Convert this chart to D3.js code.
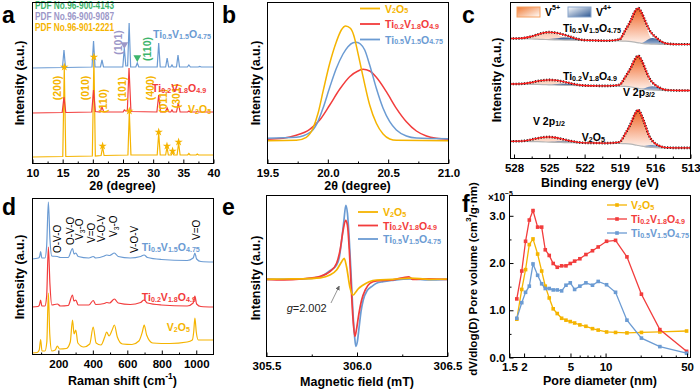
<!DOCTYPE html>
<html><head><meta charset="utf-8">
<script src="https://cdn.jsdelivr.net/npm/d3@7"></script>
<style>
body{margin:0;background:#fff}
svg{display:block;font-family:Arial,"Liberation Sans",Helvetica,sans-serif}
</style></head><body>
<svg id="fig" width="700" height="390"></svg>
<script>
// ================= DATA =================
const colV="#f5b400", colT2="#f23c3c", colT5="#6b9bd3";
const seriesNames=["V_{2}O_{5}","Ti_{0.2}V_{1.8}O_{4.9}","Ti_{0.5}V_{1.5}O_{4.75}"];

// (a) XRD  [2theta, intensity a.u.]
const xrdTicks=[10,15,20,25,30,35,40];
const xrdMinor=[12.5,17.5,22.5,27.5,32.5,37.5];
const xrdV2O5=[[10,6],[15.1,6.5],[15.35,95],[15.6,6.5],[20.0,7],[20.26,105],[20.5,7],[21.45,7.5],[21.7,16],[21.95,7.5],[25.9,8],[26.13,51],[26.4,8],[30.75,8],[31.0,30],[31.25,8],[32.15,8],[32.37,16],[32.6,8],[33.1,8],[33.3,11],[33.5,8],[34.05,8],[34.3,20],[34.55,8],[35.8,8],[36.0,9.5],[36.2,8],[37.2,8],[37.4,9],[37.6,8],[40,8]];
const xrdTi02=[[10,50],[15.0,50.5],[15.3,66],[15.6,50.5],[19.9,51],[20.2,73],[20.5,51.5],[21.3,51],[21.6,56],[21.9,51],[25.1,51],[25.3,53],[25.5,52],[25.8,52],[26.08,95],[26.4,51.5],[30.7,51],[31.0,68],[31.3,51],[32.1,51],[32.4,55],[32.7,51],[33.0,51],[33.2,53],[33.4,51],[33.95,51],[34.25,60],[34.55,51],[35.8,51],[36.0,52],[36.2,51],[37.2,51],[37.4,51.5],[37.6,51],[40,51]];
const xrdTi05=[[10,95],[15.05,95.5],[15.3,113],[15.55,95.5],[19.95,96],[20.2,122],[20.45,96],[21.35,96],[21.6,103],[21.85,96],[25.05,96],[25.3,115],[25.55,97],[25.85,97],[26.1,140],[26.35,96],[27.2,96],[27.45,100],[27.7,96],[30.75,96],[31.0,120],[31.25,96],[32.15,96],[32.4,105],[32.65,96],[33.0,96],[33.2,98],[33.4,96],[33.95,96],[34.2,108],[34.45,96],[35.75,96],[36.0,98],[36.25,96],[37.55,96],[37.8,96.5],[38.05,96],[40,96]];
const xrdStars=[[15.35,95],[20.26,105],[21.7,16],[26.13,51],[31.0,30],[32.37,16],[33.3,11],[34.3,20]];
const xrdMiller=[["(200)",14.19,75],["(010)",18.77,75],["(110)",21.7,62],["(101)",24.84,74],["(400)",29.64,75],["(011)",31.73,62],["(301)",33.95,67]];
const pdfLabels=["PDF No.96-900-4143","PDF No.96-900-9087","PDF No.96-901-2221"];
const pdfColors=["#3db56c","#9c97c8",colV];
const xrdRefMarks=[["(101)",25.3,118.5,"#9c97c8",24.3,120.5],["(110)",27.45,105.5,"#3db56c",28.98,114]];

// (b) XRD zoom
const bTicks=[19.5,20.0,20.5,21.0], bMinor=[19.75,20.25,20.75];
const bV2O5=[[19.5,22.3],[19.743,22.7],[19.826,25.7],[19.881,34.7],[19.923,49.7],[19.964,71.3],[20.02,99.7],[20.075,121.3],[20.116,133],[20.152,137],[20.191,134.7],[20.218,128],[20.254,109.7],[20.296,86.3],[20.351,58],[20.406,39.7],[20.462,29],[20.517,24],[20.572,22.7],[21.0,22.3]];
const bTi02=[[19.5,23.7],[19.633,24.7],[19.743,27.7],[19.854,33.7],[19.937,43],[20.02,58],[20.102,73.7],[20.185,86.3],[20.254,92],[20.296,93.7],[20.351,92],[20.406,85.7],[20.489,71.3],[20.572,54.7],[20.655,41.3],[20.738,32],[20.821,27],[20.904,24.7],[21.0,23.7]];
const bTi05=[[19.5,24.7],[19.743,25.7],[19.854,30.3],[19.915,39.7],[19.964,54.7],[20.02,75.7],[20.075,94.7],[20.13,109],[20.171,116.3],[20.213,120.3],[20.241,120.7],[20.274,119],[20.31,113],[20.351,98],[20.406,74.7],[20.462,54.7],[20.517,41.3],[20.572,33],[20.655,27],[20.738,25],[21.0,24.3]];

// (c) XPS V 2p
const xpsTicks=[528,525,522,519,516,513], xpsMinor=[526.5,523.5,520.5,517.5,514.5];
const xpsE=[528.3,527.5,526.5,526,525.5,525,524.5,524,523.5,523,522.5,522,521,520,519,518.5,518,517.7,517.4,517.1,516.8,516.5,516.2,515.9,515.6,515.2,514.8,514,513];
const xpsTopBase=[119.5,119.3,119,118.8,118.6,118.4,118.2,118,117.9,117.8,117.7,117.6,117.5,117.3,117.1,116.8,116.3,115.8,115.2,114.6,114.2,114,113.9,113.8,113.7,113.7,113.7,113.7,113.7];
const xpsTopV5=[0,0.3,2.5,4.5,6.3,7,6,4,2,0.8,0.2,0,0,0,1.5,11,22,30.5,34.5,30,20,10,4,1.5,0.5,0,0,0,0];
const xpsTopV4=[0,0,0,0,0.2,0.5,1.2,2.2,2.6,2,1,0.3,0,0,0,0,0,0,0.2,0.5,2.5,5,6,5.5,3.5,1.5,0.5,0,0];
const xpsTopFit=[119.5,119.6,121.5,123.3,125.1,125.9,125.4,124.2,122.5,120.6,118.9,117.9,117.5,117.3,118.6,127.8,138.3,146.3,149.9,145.1,136.7,129,123.9,120.8,117.7,115.2,114.2,113.7,113.7];
const xpsMidBase=[74,73.9,73.7,73.6,73.4,73.2,73,72.8,72.6,72.5,72.4,72.3,72.2,72.1,71.9,71.6,71,70.4,69.7,69,68.5,68.2,68,67.8,67.7,67.6,67.5,67.5,67.5];
const xpsMidV5=[0,0.2,1.8,3.2,4.3,4.6,4,2.7,1.3,0.5,0.1,0,0,0,1.2,9.5,20,28,32.5,28,19,9.5,3.8,1.3,0.4,0,0,0,0];
const xpsMidV4=[0,0,0,0,0,0.3,0.8,1.4,1.7,1.3,0.6,0.2,0,0,0,0,0,0,0,0.3,1.5,3,3.8,3.4,2.2,0.9,0.3,0,0];
const xpsMidFit=[74,74.1,75.5,76.8,77.7,78.1,77.8,76.9,75.6,74.3,73.1,72.5,72.2,72.1,73.1,81.1,91,98.4,102.2,97.3,89,80.7,75.6,72.5,70.3,68.5,67.8,67.5,67.5];
const xpsBotBase=[16.7,16.6,16.4,16.3,16.1,15.9,15.7,15.5,15.4,15.3,15.2,15.1,15,14.9,14.7,14.4,13.8,13.2,12.5,11.8,11.2,10.8,10.5,10.3,10.2,10.1,10.1,10.1,10.1];
const xpsBotV5=[0,0.2,2,3.4,4.6,5,4.3,2.9,1.4,0.5,0.1,0,0,0,1.2,10,21.5,30.5,35.5,30.5,20.5,10,4,1.3,0.4,0,0,0,0];
const xpsBotV4=[0,0,0,0,0,0.2,0.5,0.9,1.1,0.9,0.4,0.1,0,0,0,0,0,0,0,0,1,2,2.6,2.3,1.5,0.6,0.2,0,0];
const xpsBotFit=[16.7,16.8,18.4,19.7,20.7,21.1,20.5,19.3,17.9,16.7,15.7,15.2,15,14.9,15.9,24.4,35.3,43.7,48,42.3,32.7,22.8,17.1,13.9,12.1,10.7,10.3,10.1,10.1];
const xpsLabels=[["Ti_{0.5}V_{1.5}O_{4.75}",523.8,130],["Ti_{0.2}V_{1.8}O_{4.9}",523.8,82],["V 2p_{3/2}",518.7,66],["V 2p_{1/2}",526.35,37],["V_{2}O_{5}",522.2,21]];

// (d) Raman  [shift cm-1, intensity]
const ramTicks=[200,400,600,800,1000], ramMinor=[100,300,500,700,900];
const ramV2O5=[[50,1],[80,1.5],[92,4],[100,14.5],[108,3],[125,3],[136,12],[145,61],[153,20],[165,3],[185,4],[197,8],[210,5],[250,5.5],[272,12],[285,34],[294,20],[304,24],[316,11],[350,7],[385,10],[405,27],[422,11],[450,9],[472,17],[483,22],[497,18],[515,24],[528,29],[545,17],[575,10],[630,9.5],[670,13],[690,22],[701,29],[715,19],[750,11],[850,10.5],[950,12],[980,14],[988,22],[995,36],[1003,22],[1015,14],[1100,14]];
const ramTi02=[[50,47],[85,47.5],[93,49],[100,54],[107,48],[125,48],[135,58],[145,107],[154,70],[165,49],[197,50],[215,48],[260,48.5],[285,59],[293,53],[304,54],[318,49],[380,49],[405,53.5],[420,49.5],[470,50.5],[483,51.5],[500,51],[528,55],[550,51],[620,49.5],[680,51.5],[700,54],[720,51],[800,49],[950,48],[985,51],[995,58],[1005,50],[1030,47.5],[1100,47]];
const ramTi05=[[50,95],[88,96],[95,98],[100,102.5],[107,96],[125,96],[135,108],[145,152],[154,115],[165,98],[197,97.5],[215,96.5],[260,96.5],[285,105.5],[294,100],[304,101],[318,97.5],[380,96],[405,97.5],[420,96],[470,98],[483,99],[500,98.5],[528,101],[550,97.5],[620,96],[680,97.5],[700,99],[720,96.5],[800,94.5],[950,93.5],[985,96],[995,101],[1005,95],[1030,92.5],[1100,92]];
const ramModes=[["O-V-O",197,101],["O-V-O",270,109],["V_{3}-O",322,114],["V=O",390,111],["V-O-V",452,112],["V_{3}-O",521,117],["V-O-V",640,101],["V=O",1000,114]];
const ramLabels=[[seriesNames[2],687,107,colT5],[seriesNames[1],687,57,colT2],[seriesNames[0],832,27,colV]];

// (e) EPR [field mT, signal]
const eprTicks=[305.5,306.0,306.5], eprMinor=[305.75,306.25];
const eprV2O5=[[305.5,0],[305.6,0.3],[305.7,0.5],[305.8,1.5],[305.853,4.3],[305.89,9.3],[305.918,17.6],[305.932,21],[305.945,12.6],[305.963,-7.4],[305.982,-15.7],[305.995,-13],[306.01,-9.5],[306.037,-5.7],[306.07,-2.5],[306.11,-0.7],[306.2,0],[306.3,1.2],[306.4,0],[306.5,0.3]];
const eprTi02=[[305.5,0],[305.6,-0.5],[305.7,0.5],[305.8,3],[305.853,7.6],[305.89,16],[305.91,30],[305.926,49],[305.94,59],[305.95,54],[305.96,30],[305.97,-5],[305.98,-38],[305.991,-57],[306.0,-50],[306.01,-38],[306.028,-21],[306.05,-10],[306.074,-4],[306.11,-1.5],[306.2,-0.5],[306.29,2.5],[306.31,0],[306.4,0.5],[306.5,0]];
const eprTi05=[[305.5,0],[305.7,0.3],[305.8,2.5],[305.853,8.6],[305.89,14.3],[305.905,22],[305.918,39],[305.93,58],[305.941,74],[305.95,66],[305.96,40],[305.97,5],[305.98,-32],[305.99,-58],[305.996,-67],[306.005,-62],[306.015,-47],[306.025,-32],[306.037,-21],[306.06,-11],[306.083,-7.4],[306.11,-4],[306.147,-2.4],[306.2,-1],[306.3,0.5],[306.4,-0.5],[306.5,0]];
const eprNote={text:"=2.002",x:305.614,y:-28.7,ax0:305.859,ay0:-23.7,ax1:305.905,ay1:-6.7};

// (f) pore size distribution [nm, x1e-5 cm3/g nm]
const poreD=[1.75,1.93,2.08,2.24,2.41,2.64,2.86,3.07,3.32,3.59,3.89,4.24,4.62,5.03,5.48,6.08,6.85,7.8,8.73,10.3,12.3,15.4,20.5,29.5,50];
const poreV2O5=[0.80,1.43,1.85,2.38,2.5,2.18,1.82,1.5,1.25,1.02,0.92,0.82,0.78,0.75,0.72,0.68,0.65,0.6,0.57,0.53,0.52,0.51,0.52,0.53,0.55];
const poreTi02=[1.23,1.82,2.45,2.9,3.1,2.75,2.75,2.27,2.15,1.98,1.9,1.93,1.93,1.98,2.03,2.08,2.17,2.25,2.33,2.45,2.47,2.12,1.33,0.58,0.12];
const poreTi05=[0.82,1.15,1.37,1.5,1.97,1.73,1.55,1.45,1.45,1.42,1.42,1.4,1.52,1.57,1.43,1.5,1.57,1.52,1.6,1.53,1.37,0.78,0.4,0.22,0.08];
const poreXTicks=[1.5,2,5,10,50], poreXMinor=[3,4,6,7,8,9,20,30,40];
const poreYTicks=[0,1,2,3], poreYMinor=[0.5,1.5,2.5];

// ================= DRAW =================
const svg=d3.select("#fig");
const defs=svg.append("defs");

function rich(parent,str,o){
  const t=parent.append("text").attr("x",o.x).attr("y",o.y).attr("font-size",o.size)
    .attr("font-weight",o.weight||"bold").attr("fill",o.fill||"#000").attr("text-anchor",o.anchor||"start");
  if(o.transform) t.attr("transform",o.transform);
  if(o.db) t.attr("dominant-baseline",o.db);
  const re=/([_^])\{([^}]*)\}|([^_^]+)/g; let m,cur=0;
  while((m=re.exec(str))!==null){
    let txt,off,fs;
    if(m[3]!==undefined){txt=m[3];off=0;fs=o.size;}
    else{txt=m[2];fs=o.size*0.68;off=m[1]==="_"?o.size*0.28:-o.size*0.42;}
    t.append("tspan").attr("dy",off-cur).attr("font-size",fs).text(txt);
    cur=off;
  }
  return t;
}
function frame(b){svg.append("rect").attr("x",b.l+0.5).attr("y",b.t+0.5).attr("width",b.r-b.l).attr("height",b.b-b.t).attr("fill","none").attr("stroke","#000").attr("stroke-width",1);}
function clip(id,b){defs.append("clipPath").attr("id",id).append("rect").attr("x",b.l).attr("y",b.t).attr("width",b.r-b.l).attr("height",b.b-b.t);return svg.append("g").attr("clip-path",`url(#${id})`);}
function xAxis(b,x,major,minor,fmt){
  const g=svg.append("g").attr("transform",`translate(0.5,${b.b+0.5})`)
    .call(d3.axisBottom(x).tickValues(major).tickSize(-4).tickPadding(5).tickFormat(fmt));
  g.select(".domain").remove();
  g.attr("font-family",null).attr("font-size",null);
  g.selectAll("text").attr("font-size",11.5).attr("font-weight","bold").attr("fill","#000");
  if(minor){const m=svg.append("g").attr("transform",`translate(0.5,${b.b+0.5})`).call(d3.axisBottom(x).tickValues(minor).tickSize(-2).tickFormat(""));m.select(".domain").remove();}
}
function xTitle(str,x,y){rich(svg,str,{x:x,y:y,size:12.5,anchor:"middle",db:"central"});}
function yTitle(str,x,y,size){rich(svg,str,{x:0,y:0,size:size||12.5,anchor:"middle",db:"central",transform:`translate(${x},${y}) rotate(-90)`});}
function letter(t,x,y){svg.append("text").attr("x",x).attr("y",y).attr("font-size",23).attr("font-weight","bold").text(t);}

// ---------- (a) ----------
const A={l:32,r:213,t:2,b:163};
const xA=d3.scaleLinear().domain([10,40]).range([A.l,A.r]);
const yA=d3.scaleLinear().domain([0,161]).range([A.b,A.t]);
const gA=clip("clipA",A);
const lnA=d3.line().x(d=>xA(d[0])).y(d=>yA(d[1]));
[[xrdV2O5,colV],[xrdTi02,colT2],[xrdTi05,colT5]].forEach(([d,c])=>gA.append("path").attr("d",lnA(d)).attr("fill","none").attr("stroke",c).attr("stroke-width",1.2));
gA.selectAll(".star").data(xrdStars).join("path").attr("transform",d=>`translate(${xA(d[0])},${yA(d[1])-1})`).attr("d",d3.symbol(d3.symbolStar).size(22)).attr("fill",colV);
xrdMiller.forEach(([t,x,y])=>svg.append("text").attr("transform",`translate(${xA(x)},${yA(y)}) rotate(-90)`).attr("text-anchor","middle").attr("dominant-baseline","central").attr("font-size",10.5).attr("font-weight","bold").attr("fill",colV).text(t));
xrdRefMarks.forEach(([t,px,py,c,lx,ly])=>{
  svg.append("path").attr("transform",`translate(${xA(px)},${yA(py)}) rotate(180)`).attr("d",d3.symbol(d3.symbolTriangle).size(26)).attr("fill",c);
  svg.append("text").attr("transform",`translate(${xA(lx)},${yA(ly)}) rotate(-90)`).attr("text-anchor","middle").attr("dominant-baseline","central").attr("font-size",10.5).attr("font-weight","bold").attr("fill",c).text(t);
});
pdfLabels.forEach((t,i)=>svg.append("text").attr("x",35).attr("y",9+i*11).attr("font-size",10).attr("font-weight","bold").attr("fill",pdfColors[i]).attr("textLength",79).attr("lengthAdjust","spacingAndGlyphs").text(t));
rich(svg,seriesNames[2],{x:xA(30.06),y:yA(129),size:10.5,fill:colT5,db:"central"});
rich(svg,seriesNames[1],{x:xA(29.9),y:yA(75),size:10.5,fill:colT2,db:"central"});
rich(svg,seriesNames[0],{x:xA(35.86),y:yA(54),size:10.5,fill:colV,db:"central"});
frame(A); xAxis(A,xA,xrdTicks,xrdMinor,d3.format("d"));
xTitle("2θ (degree)",122.5,186); yTitle("Intensity (a.u.)",20,83); letter("a",2,23);

// ---------- (b) ----------
const B={l:267,r:448,t:2,b:163};
const xB=d3.scaleLinear().domain([19.5,21.0]).range([B.l,B.r]);
const yB=d3.scaleLinear().domain([0,161]).range([B.b,B.t]);
const gB=clip("clipB",B);
const lnB=d3.line().x(d=>xB(d[0])).y(d=>yB(d[1])).curve(d3.curveMonotoneX);
[[bTi02,colT2],[bTi05,colT5],[bV2O5,colV]].forEach(([d,c])=>gB.append("path").attr("d",lnB(d)).attr("fill","none").attr("stroke",c).attr("stroke-width",1.5));
[colV,colT2,colT5].forEach((c,i)=>{const y=8.5+i*15.5;
  svg.append("line").attr("x1",360).attr("x2",380).attr("y1",y).attr("y2",y).attr("stroke",c).attr("stroke-width",1.8);
  rich(svg,seriesNames[i],{x:385,y:y,size:10.5,fill:c,db:"central"});});
frame(B); xAxis(B,xB,bTicks,bMinor,d3.format(".1f"));
xTitle("2θ (degree)",357.5,186); yTitle("Intensity (a.u.)",256,83); letter("b",222,23);

// ---------- (c) ----------
const C={l:510,r:690,t:2,b:158};
const xC=d3.scaleLinear().domain([528.3,513]).range([C.l,C.r]);
const yC=d3.scaleLinear().domain([0,156]).range([C.b,C.t]);
const gr5=defs.append("linearGradient").attr("id","g5").attr("x1",0).attr("y1",0).attr("x2",0).attr("y2",1);
gr5.append("stop").attr("offset","0%").attr("stop-color","#f06424");gr5.append("stop").attr("offset","100%").attr("stop-color","#fff4ef");
const gr4=defs.append("linearGradient").attr("id","g4").attr("x1",0).attr("y1",0).attr("x2",0).attr("y2",1);
gr4.append("stop").attr("offset","0%").attr("stop-color","#2a5591");gr4.append("stop").attr("offset","100%").attr("stop-color","#9db4d6");
const gr5s=defs.append("linearGradient").attr("id","g5s").attr("x1",0).attr("y1",0).attr("x2",1).attr("y2",1);
gr5s.append("stop").attr("offset","0%").attr("stop-color","#f07830");gr5s.append("stop").attr("offset","100%").attr("stop-color","#ffffff");
const gr4s=defs.append("linearGradient").attr("id","g4s").attr("x1",0).attr("y1",0).attr("x2",1).attr("y2",1);
gr4s.append("stop").attr("offset","0%").attr("stop-color","#ffffff");gr4s.append("stop").attr("offset","100%").attr("stop-color","#2a5591");
const gC=clip("clipC",C);
const idx=d3.range(xpsE.length);
[[xpsTopBase,xpsTopV5,xpsTopV4,xpsTopFit],[xpsMidBase,xpsMidV5,xpsMidV4,xpsMidFit],[xpsBotBase,xpsBotV5,xpsBotV4,xpsBotFit]].forEach(([base,v5,v4,fit])=>{
  const ar=comp=>d3.area().x(i=>xC(xpsE[i])).y0(i=>yC(base[i])).y1(i=>yC(base[i]+comp[i])).curve(d3.curveMonotoneX)(idx);
  gC.append("path").attr("d",ar(v5)).attr("fill","url(#g5)");
  gC.append("path").attr("d",ar(v4)).attr("fill","url(#g4)").attr("opacity",0.95);
  const ln=arr=>d3.line().x(i=>xC(xpsE[i])).y(i=>yC(arr[i])).curve(d3.curveMonotoneX)(idx);
  gC.append("path").attr("d",ln(base)).attr("fill","none").attr("stroke","#b5b5b5").attr("stroke-width",1.2);
  gC.append("path").attr("d",ln(fit)).attr("fill","none").attr("stroke","#111").attr("stroke-width",2.6).attr("stroke-dasharray","1.2,1.6");
  gC.append("path").attr("d",ln(fit)).attr("fill","none").attr("stroke","#ff1a1a").attr("stroke-width",1.3);
});
svg.append("rect").attr("x",517).attr("y",7).attr("width",23).attr("height",10).attr("fill","url(#g5s)").attr("stroke","#f5a060").attr("stroke-width",1);
rich(svg,"V^{5+}",{x:545,y:12,size:10.5,db:"central"});
svg.append("rect").attr("x",568).attr("y",7).attr("width",23).attr("height",10).attr("fill","url(#g4s)").attr("stroke","#8aa6cc").attr("stroke-width",1);
rich(svg,"V^{4+}",{x:596,y:12,size:10.5,db:"central"});
xpsLabels.forEach(([t,x,y])=>rich(svg,t,{x:xC(x),y:yC(y),size:10.5,db:"central"}));
frame(C); xAxis(C,xC,xpsTicks,xpsMinor,d3.format("d"));
xTitle("Binding energy (eV)",600,183); yTitle("Intensity (a.u.)",497,80); letter("c",462,23);

// ---------- (d) ----------
const D={l:32,r:213,t:198,b:354};
const xD=d3.scaleLinear().domain([50,1100]).range([D.l,D.r]);
const yD=d3.scaleLinear().domain([0,156]).range([D.b,D.t]);
const gD=clip("clipD",D);
const lnD=d3.line().x(d=>xD(d[0])).y(d=>yD(d[1])).curve(d3.curveMonotoneX);
[[ramV2O5,colV],[ramTi02,colT2],[ramTi05,colT5]].forEach(([d,c])=>gD.append("path").attr("d",lnD(d)).attr("fill","none").attr("stroke",c).attr("stroke-width",1.2));
ramModes.forEach(([t,x,y])=>rich(svg,t,{x:0,y:0,size:10,weight:"normal",db:"central",transform:`translate(${xD(x)},${yD(y)}) rotate(-90)`}));
ramLabels.forEach(([t,x,y,c])=>rich(svg,t,{x:xD(x),y:yD(y),size:10.5,fill:c,db:"central"}));
frame(D); xAxis(D,xD,ramTicks,ramMinor,d3.format("d"));
xTitle("Raman shift (cm^{-1})",122.5,381); yTitle("Intensity (a.u.)",20,277); letter("d",2,215);

// ---------- (e) ----------
const E={l:266,r:447,t:195,b:356};
const xE=d3.scaleLinear().domain([305.5,306.5]).range([E.l,E.r]);
const yE=d3.scaleLinear().domain([-76.7,84.3]).range([E.b,E.t]);
const gE=clip("clipE",E);
const lnE=d3.line().x(d=>xE(d[0])).y(d=>yE(d[1])).curve(d3.curveMonotoneX);
[[eprTi05,colT5],[eprTi02,colT2],[eprV2O5,colV]].forEach(([d,c])=>gE.append("path").attr("d",lnE(d)).attr("fill","none").attr("stroke",c).attr("stroke-width",1.7));
[colV,colT2,colT5].forEach((c,i)=>{const y=212+i*13.5;
  svg.append("line").attr("x1",358).attr("x2",378).attr("y1",y).attr("y2",y).attr("stroke",c).attr("stroke-width",1.8);
  rich(svg,seriesNames[i],{x:383,y:y,size:10.5,fill:c,db:"central"});});
defs.append("marker").attr("id","arr").attr("viewBox","0 0 10 10").attr("refX",9).attr("refY",5).attr("markerWidth",5).attr("markerHeight",5).attr("orient","auto")
  .append("path").attr("d","M0,0L10,5L0,10z").attr("fill","#666");
svg.append("line").attr("x1",xE(eprNote.ax0)).attr("y1",yE(eprNote.ay0)).attr("x2",xE(eprNote.ax1)).attr("y2",yE(eprNote.ay1)).attr("stroke","#888").attr("stroke-width",0.9).attr("marker-end","url(#arr)");
const gt=svg.append("text").attr("x",xE(eprNote.x)).attr("y",yE(eprNote.y)).attr("dominant-baseline","central").attr("font-size",11).attr("fill","#222");
gt.append("tspan").attr("font-style","italic").text("g"); gt.append("tspan").text(eprNote.text);
frame(E); xAxis(E,xE,eprTicks,eprMinor,d3.format(".1f"));
xTitle("Magnetic field (mT)",357,382); yTitle("Intensity (a.u.)",256,278); letter("e",222,215);

// ---------- (f) ----------
const F={l:509,r:690,t:195,b:357};
const xF=d3.scaleLog().domain([1.5,53.5]).range([F.l,F.r]);
const yF=d3.scaleLinear().domain([0,3.43]).range([F.b,F.t]);
const gF=clip("clipF",F);
const lnF=d3.line().x((d,i)=>xF(poreD[i])).y(d=>yF(d));
[[poreV2O5,colV],[poreTi02,colT2],[poreTi05,colT5]].forEach(([d,c])=>{
  gF.append("path").attr("d",lnF(d)).attr("fill","none").attr("stroke",c).attr("stroke-width",1.3);
  gF.selectAll(null).data(d).join("rect").attr("x",(v,i)=>xF(poreD[i])-1.8).attr("y",v=>yF(v)-1.8).attr("width",3.6).attr("height",3.6).attr("fill",c);
});
[colV,colT2,colT5].forEach((c,i)=>{const y=205+i*14;
  svg.append("line").attr("x1",607).attr("x2",627).attr("y1",y).attr("y2",y).attr("stroke",c).attr("stroke-width",1.3);
  svg.append("rect").attr("x",615.2).attr("y",y-1.8).attr("width",3.6).attr("height",3.6).attr("fill",c);
  rich(svg,seriesNames[i],{x:631,y:y,size:10.5,fill:c,db:"central"});});
frame(F); xAxis(F,xF,poreXTicks,poreXMinor,d3.format("~g"));
const ya=svg.append("g").attr("transform",`translate(${F.l+0.5},0.5)`).call(d3.axisLeft(yF).tickValues(poreYTicks).tickSize(-4).tickPadding(4).tickFormat(d3.format(".1f")));
ya.select(".domain").remove(); ya.attr("font-family",null).attr("font-size",null);
ya.selectAll("text").attr("font-size",11.5).attr("font-weight","bold").attr("fill","#000");
svg.append("g").attr("transform",`translate(${F.l+0.5},0.5)`).call(d3.axisLeft(yF).tickValues(poreYMinor).tickSize(-2).tickFormat("")).select(".domain").remove();
rich(svg,"×10^{−5}",{x:488,y:197,size:10,db:"central"});
xTitle("Pore diameter (nm)",600,381); yTitle("dV/dlog(D) Pore volume (cm^{3}/g·nm)",473,279,11.5); letter("f",462,212);
</script>
</body></html>
